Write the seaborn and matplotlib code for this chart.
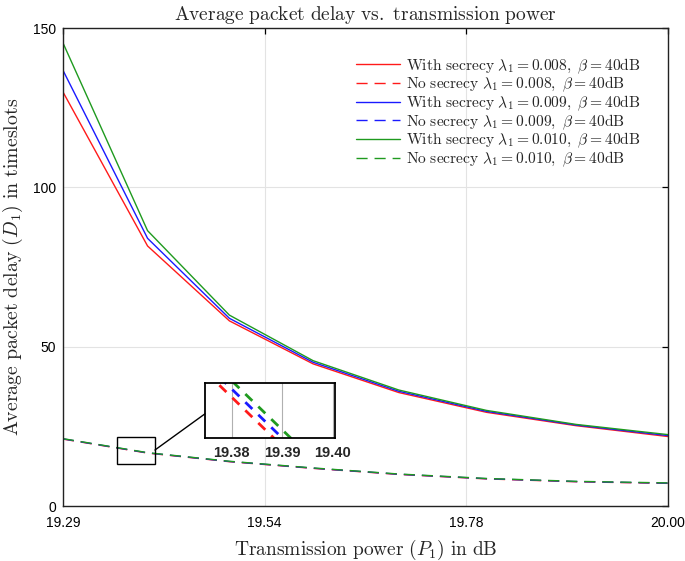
import numpy as np
import pandas as pd
import matplotlib
matplotlib.use("Agg")
import matplotlib.pyplot as plt
import seaborn as sns
from matplotlib.patches import Rectangle, ConnectionPatch

# ---------------- data ----------------
P_dB = [19.294, 19.4, 19.5, 19.6, 19.7, 19.8, 19.9, 20.0]

with_008 = [130.0, 81.6, 58.1, 44.6, 35.6, 29.4, 25.2, 21.8]
with_009 = [136.8, 84.0, 58.9, 45.1, 36.0, 29.7, 25.4, 22.1]
with_010 = [145.4, 86.4, 59.9, 45.6, 36.4, 30.0, 25.6, 22.4]

no_008 = [21.00, 16.60, 13.90, 11.80, 9.90, 8.50, 7.60, 7.10]
no_009 = [21.07, 16.67, 13.97, 11.87, 9.97, 8.57, 7.67, 7.17]
no_010 = [21.14, 16.74, 14.04, 11.94, 10.04, 8.64, 7.74, 7.24]

labels = [
    r'$\mathrm{With\ secrecy}\ \lambda_1 = 0.008,\ \beta = 40\mathrm{dB}$',
    r'$\mathrm{No\ secrecy}\ \lambda_1 = 0.008,\ \beta = 40\mathrm{dB}$',
    r'$\mathrm{With\ secrecy}\ \lambda_1 = 0.009,\ \beta = 40\mathrm{dB}$',
    r'$\mathrm{No\ secrecy}\ \lambda_1 = 0.009,\ \beta = 40\mathrm{dB}$',
    r'$\mathrm{With\ secrecy}\ \lambda_1 = 0.010,\ \beta = 40\mathrm{dB}$',
    r'$\mathrm{No\ secrecy}\ \lambda_1 = 0.010,\ \beta = 40\mathrm{dB}$',
]
series_values = [with_008, no_008, with_009, no_009, with_010, no_010]
colors = ['#ff1a1a', '#ff1a1a', '#1a1aff', '#1a1aff', '#1f9a1f', '#1f9a1f']
dashed = [False, True, False, True, False, True]

xtick_dB = [19.29, 19.54, 19.78, 20.00]
xtick_mW = [85, 90, 95, 100]
yticks = [0, 50, 100, 150]

inset_ticks_dB = [19.38, 19.39, 19.40]
inset_xlim_dB = (19.3747, 19.4004)
inset_ylim = (17.09, 17.56)
box_x = (86.34, 87.28)
box_y = (13.2, 21.6)

# --------------- style ----------------
sns.set_style("white")
plt.rcParams['font.family'] = ['Liberation Sans', 'DejaVu Sans']
plt.rcParams['mathtext.fontset'] = 'cm'

P_mW = [10 ** (d / 10) for d in P_dB]

rows = []
for lab, vals in zip(labels, series_values):
    for x, y in zip(P_mW, vals):
        rows.append({'P': x, 'D': y, 'series': lab})
df = pd.DataFrame(rows)

fig = plt.figure(figsize=(6.85, 5.61), dpi=100)
ax = fig.add_axes([63 / 685, 1 - 506 / 561, 605 / 685, 478 / 561])

for lab, col, dsh in zip(labels, colors, dashed):
    sub = df[df['series'] == lab]
    kw = dict(linestyle=(0, (8, 5))) if dsh else dict(linestyle='-')
    sns.lineplot(data=sub, x='P', y='D', ax=ax, color=col, lw=1.0,
                 label=lab, **kw)

ax.set_xlim(85, 100)
ax.set_ylim(0, 150)
ax.set_xticks(xtick_mW)
ax.set_xticklabels([f'{v:.2f}' for v in xtick_dB])
ax.set_yticks(yticks)
ax.grid(True, color='#e3e3e3', lw=0.8)
ax.tick_params(direction='in', length=4, width=0.9, top=True, right=True,
               labelsize=10, colors='black')
ax.tick_params(axis='x', pad=7)
ax.tick_params(axis='y', pad=5)
for s in ax.spines.values():
    s.set_color('#222222')
    s.set_linewidth(1.0)

ax.set_title(r'$\mathrm{Average\ packet\ delay\ vs.\ transmission\ power}$',
             fontsize=14, pad=6)
ax.set_xlabel(r'$\mathrm{Transmission\ power\ (}P_1\mathrm{)\ in\ dB}$',
              fontsize=14)
ax.set_ylabel(r'$\mathrm{Average\ packet\ delay\ (}\bar{D}_1\mathrm{)\ in\ timeslots}$',
              fontsize=14.3)
ax.xaxis.set_label_coords(0.5, (506 - 538) / 478)
ax.yaxis.set_label_coords((25 - 63) / 605, 0.5)

leg = ax.legend(loc='upper left', bbox_to_anchor=((350 - 63) / 605, (506 - 50) / 478),
                frameon=False, fontsize=11.2, handlelength=2.8, handletextpad=0.4,
                labelspacing=-0.05, borderaxespad=0)

# zoom box
ax.add_patch(Rectangle((box_x[0], box_y[0]), box_x[1] - box_x[0], box_y[1] - box_y[0],
                       fill=False, edgecolor='black', lw=1.0, zorder=5))

# inset
axi = fig.add_axes([205 / 685, 1 - 438 / 561, 130 / 685, 55 / 561])
for lab, col, dsh in zip(labels, colors, dashed):
    if not dsh:
        continue
    sub = df[df['series'] == lab]
    sns.lineplot(data=sub, x='P', y='D', ax=axi, color=col, lw=2.0,
                 linestyle=(0, (3.5, 3)), legend=False)
axi.set_xlim(10 ** (inset_xlim_dB[0] / 10), 10 ** (inset_xlim_dB[1] / 10))
axi.set_ylim(*inset_ylim)
axi.set_xticks([10 ** (d / 10) for d in inset_ticks_dB])
axi.set_xticklabels([f'{d:.2f}' for d in inset_ticks_dB], fontweight='bold')
axi.set_yticks([])
axi.set_xlabel('')
axi.set_ylabel('')
axi.grid(True, axis='x', color='#b0b0b0', lw=0.8)
axi.tick_params(direction='in', length=3, labelsize=10.5, pad=6)
for s in axi.spines.values():
    s.set_color('black')
    s.set_linewidth(1.3)
axi.set_facecolor('white')

con = ConnectionPatch(xyA=(box_x[1], 17.57), coordsA=ax.transData,
                      xyB=(0, 0.44), coordsB=axi.transAxes,
                      color='black', lw=1.0)
fig.add_artist(con)

fig.savefig('out.png', dpi=100)
